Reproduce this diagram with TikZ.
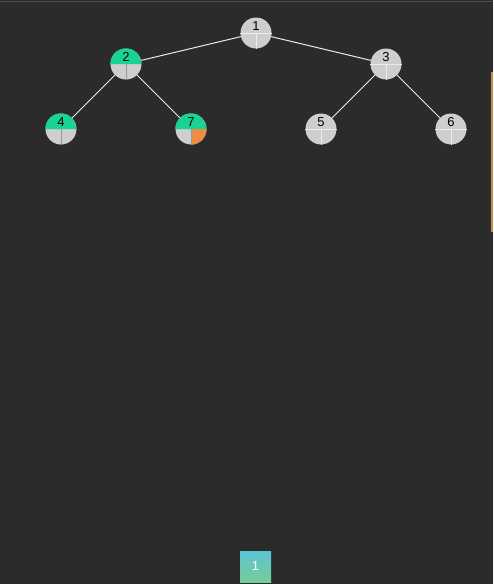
\documentclass[tikz,border=0pt]{standalone}
\usepackage{fontspec}
\setmainfont{Liberation Sans}
\definecolor{Canvas}{RGB}{43,43,43}
\definecolor{NodeGray}{RGB}{206,206,206}
\definecolor{SplitLine}{RGB}{236,236,236}
\definecolor{Mint}{RGB}{24,210,150}
\definecolor{Amber}{RGB}{238,140,66}
\definecolor{EdgeAmber}{RGB}{196,142,66}
\definecolor{BoxTop}{RGB}{92,196,214}
\definecolor{BoxBottom}{RGB}{120,204,150}
\usetikzlibrary{positioning,calc}

\begin{document}
\begin{tikzpicture}[x=1pt,y=-1pt,
    treenode/.style={circle,fill=NodeGray,minimum size=31pt,inner sep=0pt},
    numtext/.style={font=\fontsize{13}{13}\selectfont,text=black,inner sep=0pt},
    edge/.style={draw=white!92!black,line width=1pt}]
  % canvas
  \fill[Canvas] (0,0) rectangle (493,584);
  \useasboundingbox (0,0) rectangle (493,584);
  \draw[black!70,line width=1pt] (0,1) -- (493,1);
  \fill[EdgeAmber] (491,72) rectangle (493,232);

  % tree nodes
  \node[treenode] (n1) at (256,33) {};
  \node[treenode] (n2) at (126,64) {};
  \node[treenode] (n3) at (386,64) {};
  \node[treenode] (n4) at (61,129) {};
  \node[treenode] (n7) at (191,129) {};
  \node[treenode] (n5) at (321,129) {};
  \node[treenode] (n6) at (451,129) {};

  % edges
  \draw[edge] (n1) -- (n2);
  \draw[edge] (n1) -- (n3);
  \draw[edge] (n2) -- (n4);
  \draw[edge] (n2) -- (n7);
  \draw[edge] (n3) -- (n5);
  \draw[edge] (n3) -- (n6);

  % coloured parts
  \foreach \n in {n2,n4,n7}
    \fill[Mint] (\n.west) arc[start angle=180,end angle=0,radius=15.5pt] -- cycle;
  \fill[Amber] (n7.center) -- (n7.south) arc[start angle=270,end angle=360,radius=15.5pt] -- cycle;

  % split lines
  \foreach \n in {n1,n3,n5,n6}
    \draw[SplitLine,line width=0.8pt] (\n.west) -- (\n.east) (\n.center) -- (\n.south);
  \foreach \n in {n2,n4,n7}
    \draw[black!40,line width=0.8pt] (\n.center) -- (\n.south);

  % numbers
  \foreach \n/\t in {n1/1,n2/2,n3/3,n4/4,n7/7,n5/5,n6/6}
    \node[numtext] (t\t) at ($(\n.center)+(0,-7)$) {\t};

  % output box
  \node[minimum size=31pt,inner sep=0pt,top color=BoxTop,bottom color=BoxBottom,
        text=white,font=\fontsize{13}{13}\selectfont] (out1) at (255.5,566.5) {1};
\end{tikzpicture}
\end{document}
